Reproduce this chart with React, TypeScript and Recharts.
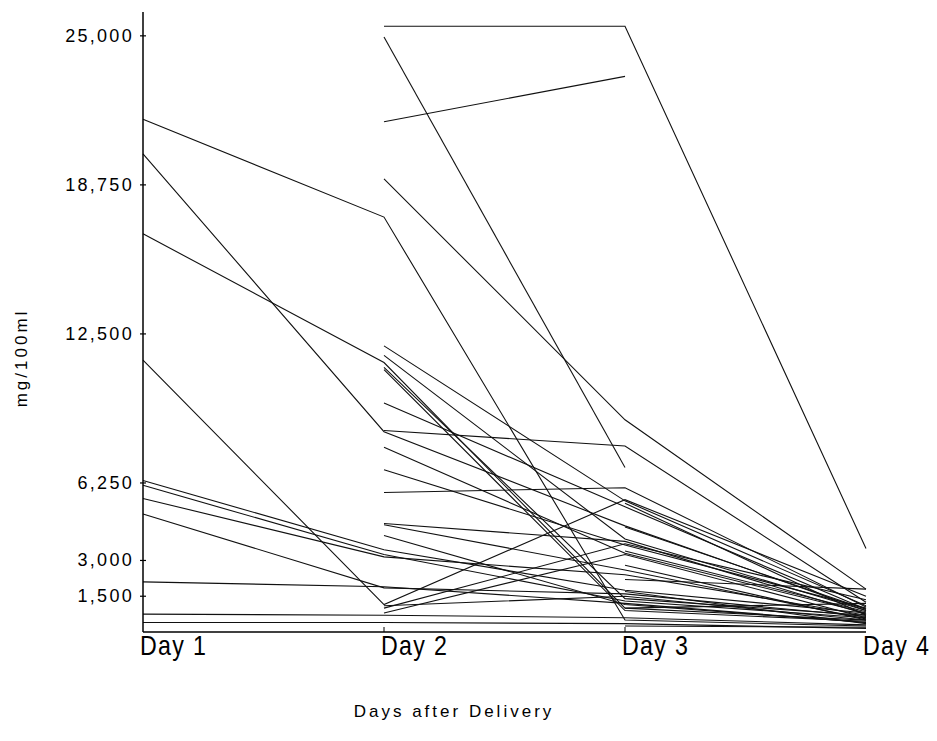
import { LineChart, Line, XAxis, YAxis } from 'recharts';

const days = ['Day 1', 'Day 2', 'Day 3', 'Day 4'];
const yTicks = [1500, 3000, 6250, 12500, 18750, 25000];

// one row per patient: [day 1, day 2, day 3, day 4], null = not measured
const fromDay1 = [
  [21500, 17400, 500, 250],
  [20050, 8400, 4450, 900],
  [16700, 11300, 1000, 500],
  [11400, 1150, 5550, 1500],
  [6350, 3450, 1750, 800],
  [6150, 3250, 1300, 600],
  [5600, 3150, 2400, 700],
  [4950, 1850, 1600, 650],
  [2100, 1900, 1200, 400],
  [750, 700, 600, 300],
  [400, 400, 350, 150],
];

const fromDay2 = [
  [null, 25400, 25400, 3500],
  [null, 24950, 6900, null],
  [null, 21400, 23300, null],
  [null, 19000, 8900, 1800],
  [null, 12000, 5500, 1100],
  [null, 11600, 3900, 900],
  [null, 11100, 1400, 700],
  [null, 11000, 900, 450],
  [null, 9600, 5250, 950],
  [null, 8450, 7800, 1250],
  [null, 7750, 3300, 800],
  [null, 6800, 3650, 1000],
  [null, 5850, 6050, 1050],
  [null, 4550, 3800, 750],
  [null, 4500, 2600, 550],
  [null, 4050, 1150, 400],
  [null, 1000, 3700, 1350],
  [null, 800, 3250, 600],
  [null, 1100, 1500, 500],
];

const fromDay3 = [
  [null, null, 5400, 700],
  [null, null, 4400, 950],
  [null, null, 3400, 850],
  [null, null, 2800, 500],
  [null, null, 2200, 1800],
  [null, null, 1700, 350],
  [null, null, 1000, 1200],
  [null, null, 250, 200],
];

const patients = [...fromDay1, ...fromDay2, ...fromDay3];

const data = days.map((day, i) => {
  const row: Record<string, string | number | null> = { day };
  patients.forEach((p, j) => {
    row[`p${j}`] = p[i];
  });
  return row;
});

const YTick = ({ x, y, payload }: any) => (
  <g>
    <line x1={x - 3} x2={x + 3} y1={y} y2={y} stroke="#000" strokeWidth={1.2} />
    <text
      x={x - 9}
      y={y}
      dy={6}
      textAnchor="end"
      fill="#000"
      style={{ fontFamily: 'Liberation Sans, Arial, sans-serif', fontSize: 18, letterSpacing: 2.3 }}
    >
      {payload.value.toLocaleString('en-US')}
    </text>
  </g>
);

const XTick = ({ x, y, payload, index }: any) => (
  <g>
    {index > 0 && index < 3 && (
      <line x1={x} x2={x} y1={y} y2={y - 5} stroke="#000" strokeWidth={1} />
    )}
    <text
      transform={`translate(${x - 3}, ${y + 23}) scale(0.86, 1)`}
      textAnchor="start"
      fill="#000"
      style={{ fontFamily: 'Liberation Sans, Arial, sans-serif', fontSize: 27, letterSpacing: 1.5 }}
    >
      {payload.value}
    </text>
  </g>
);

export default function App() {
  return (
    <div style={{ position: 'absolute', left: 0, top: 0, width: 937, height: 741, background: '#fff' }}>
      <LineChart
        width={937}
        height={741}
        data={data}
        margin={{ top: 12, right: 71, bottom: 69, left: 63 }}
      >
        <XAxis
          dataKey="day"
          height={40}
          tickSize={0}
          tickMargin={0}
          tick={<XTick />}
          stroke="#000"
          strokeWidth={1.5}
          interval={0}
        />
        <YAxis
          width={80}
          domain={[0, 26000]}
          ticks={yTicks}
          tickSize={0}
          tickMargin={0}
          tick={<YTick />}
          stroke="#000"
          strokeWidth={1.5}
          allowDataOverflow
        />
        {patients.map((_, j) => (
          <Line
            key={j}
            type="linear"
            dataKey={`p${j}`}
            stroke="#111"
            strokeWidth={1.1}
            dot={false}
            activeDot={false}
            connectNulls={false}
            isAnimationActive={false}
          />
        ))}
      </LineChart>
      <div
        style={{
          position: 'absolute',
          left: 22,
          top: 358,
          transform: 'translate(-50%, -50%) rotate(-90deg)',
          fontFamily: 'Liberation Sans, Arial, sans-serif',
          fontSize: 17,
          letterSpacing: 3,
          whiteSpace: 'nowrap',
        }}
      >
        mg/100ml
      </div>
      <div
        style={{
          position: 'absolute',
          left: 454,
          top: 712,
          transform: 'translate(-50%, -50%)',
          fontFamily: 'Liberation Sans, Arial, sans-serif',
          fontSize: 17,
          letterSpacing: 3,
          whiteSpace: 'nowrap',
        }}
      >
        Days after Delivery
      </div>
    </div>
  );
}
